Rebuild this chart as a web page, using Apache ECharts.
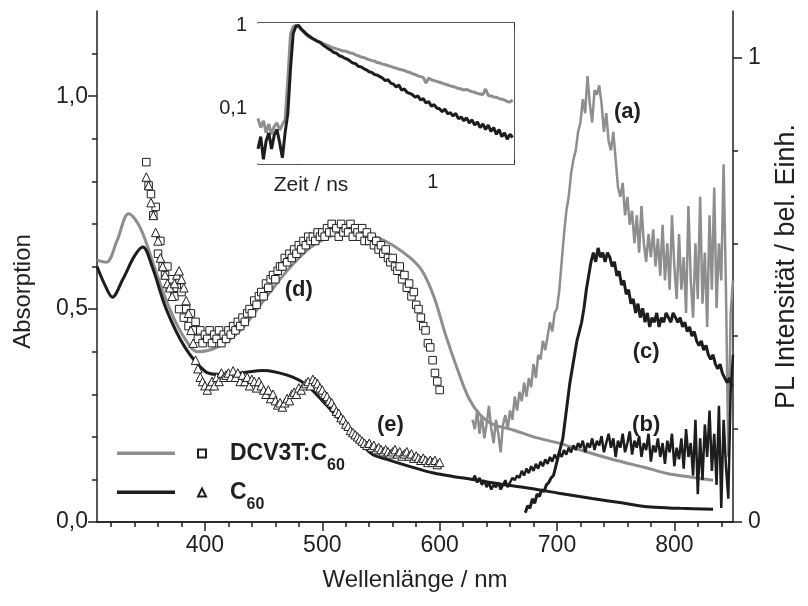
<!DOCTYPE html>
<html>
<head>
<meta charset="utf-8">
<script src="https://cdn.jsdelivr.net/npm/echarts@6/dist/echarts.min.js"></script>
<style>
  html, body { margin: 0; padding: 0; background: #ffffff; }
  #chart { width: 808px; height: 606px; }
</style>
</head>
<body>
<div id="chart"></div>
<script>
// ---------- Absorption spectra (left axis) ----------
const absWavelengthDcv = [308, 316, 325, 335, 345, 358, 370, 383, 394, 410, 430, 450, 470, 490, 510, 520, 530, 545, 560, 575, 585, 595, 605, 615, 625, 635, 645, 664, 680, 703, 725, 750, 775, 794, 815, 833];
const absDcv = [0.615, 0.61, 0.66, 0.724, 0.69, 0.59, 0.5, 0.43, 0.40, 0.41, 0.45, 0.52, 0.59, 0.645, 0.675, 0.68, 0.68, 0.67, 0.65, 0.62, 0.59, 0.53, 0.44, 0.36, 0.29, 0.25, 0.23, 0.215, 0.2, 0.184, 0.165, 0.145, 0.128, 0.114, 0.105, 0.098];

const absWavelengthC60 = [308, 315, 321, 330, 340, 347, 355, 367, 383, 400, 410, 430, 450, 470, 485, 500, 515, 530, 542, 555, 575, 595, 611, 628, 650, 675, 703, 730, 755, 780, 805, 833];
const absC60 = [0.6, 0.555, 0.528, 0.57, 0.625, 0.646, 0.6, 0.5, 0.41, 0.354, 0.347, 0.35, 0.356, 0.345, 0.325, 0.285, 0.24, 0.195, 0.16, 0.147, 0.13, 0.115, 0.107, 0.1, 0.09, 0.08, 0.067, 0.055, 0.045, 0.035, 0.032, 0.03];

// ---------- Excitation spectra, symbols (left axis), 350-600 nm every 2 nm ----------
const excStart = 350, excStep = 2;
const excDcv = [0.845, 0.79, 0.77, 0.72, 0.74, 0.63, 0.66, 0.6, 0.58, 0.6, 0.55, 0.57, 0.53, 0.55, 0.5, 0.54, 0.48, 0.5, 0.46, 0.49,
  0.45, 0.47, 0.43, 0.45, 0.42, 0.44, 0.43, 0.45, 0.42, 0.44, 0.43, 0.45, 0.42, 0.44, 0.43, 0.45, 0.44, 0.46, 0.45, 0.47,
  0.46, 0.48, 0.47, 0.49, 0.5, 0.49, 0.52, 0.51, 0.53, 0.54, 0.53, 0.56, 0.55, 0.57, 0.58, 0.57, 0.59, 0.6, 0.6, 0.62,
  0.61, 0.63, 0.62, 0.64, 0.63, 0.65, 0.64, 0.66, 0.65, 0.67, 0.66, 0.67, 0.66, 0.68, 0.67, 0.68, 0.67, 0.69, 0.68, 0.7,
  0.68, 0.69, 0.67, 0.7, 0.68, 0.69, 0.68, 0.7, 0.67, 0.69, 0.68, 0.67, 0.69, 0.66, 0.68, 0.66, 0.67, 0.65, 0.66, 0.64,
  0.65, 0.63, 0.64, 0.62, 0.61, 0.62, 0.6, 0.59, 0.6, 0.57, 0.58, 0.55, 0.56, 0.53, 0.54, 0.51, 0.5, 0.48, 0.46, 0.45,
  0.42, 0.41, 0.38, 0.35, 0.33, 0.31];
const excC60 = [0.81, 0.79, 0.75, 0.72, 0.68, 0.66, 0.62, 0.6, 0.58, 0.56, 0.55, 0.53, 0.56, 0.58, 0.59, 0.57, 0.55, 0.52, 0.49, 0.45,
  0.42, 0.38, 0.36, 0.34, 0.33, 0.32, 0.31, 0.32, 0.33, 0.32, 0.34, 0.33, 0.35, 0.34, 0.345, 0.35, 0.34, 0.355, 0.34, 0.35,
  0.33, 0.345, 0.33, 0.34, 0.32, 0.335, 0.33, 0.315, 0.33, 0.32, 0.31, 0.3, 0.31, 0.29, 0.3, 0.285, 0.275, 0.28, 0.27, 0.28,
  0.29, 0.285, 0.3, 0.305, 0.3, 0.315, 0.31, 0.32, 0.325, 0.33, 0.32, 0.335, 0.33, 0.325, 0.315, 0.31, 0.3, 0.295, 0.285, 0.28,
  0.27, 0.26, 0.255, 0.245, 0.24, 0.23, 0.225, 0.215, 0.21, 0.205, 0.2, 0.195, 0.19, 0.185, 0.18, 0.185, 0.175, 0.18, 0.17, 0.175,
  0.17, 0.165, 0.17, 0.165, 0.16, 0.165, 0.17, 0.16, 0.165, 0.155, 0.16, 0.165, 0.155, 0.16, 0.15, 0.155, 0.15, 0.145, 0.15, 0.145,
  0.14, 0.145, 0.14, 0.145, 0.135, 0.14];

// ---------- Photoluminescence spectra (right axis), every 2 nm ----------
const plStartA = 628, plStepA = 2;
const plA = [0.22, 0.2, 0.24, 0.19, 0.23, 0.18, 0.21, 0.25, 0.2, 0.17, 0.22, 0.19, 0.15, 0.21, 0.23, 0.2, 0.24, 0.22, 0.27, 0.24,
  0.28, 0.26, 0.3, 0.27, 0.31, 0.29, 0.34, 0.31, 0.36, 0.35, 0.39, 0.37, 0.4, 0.43, 0.41, 0.45, 0.46,
  0.5, 0.56, 0.62, 0.67, 0.7, 0.75, 0.78, 0.8, 0.84, 0.86, 0.91, 0.88, 0.96, 0.9, 0.86, 0.93, 0.92, 0.94, 0.9, 0.84,
  0.88, 0.82, 0.8, 0.84, 0.78, 0.72, 0.7, 0.73, 0.66, 0.7, 0.64, 0.67, 0.6, 0.66, 0.58, 0.68, 0.6, 0.56, 0.62, 0.57,
  0.63, 0.55, 0.61, 0.53, 0.64, 0.52, 0.6, 0.5, 0.66, 0.55, 0.48, 0.62, 0.5, 0.57, 0.45, 0.68, 0.52, 0.44, 0.6, 0.48,
  0.7, 0.47, 0.58, 0.42, 0.66, 0.5, 0.72, 0.46, 0.6, 0.52, 0.77, 0.5, 0.14, 0.45, 0.52];

const plStartB = 628, plStepB = 2;
const plB = [0.09, 0.1, 0.085, 0.095, 0.08, 0.09, 0.075, 0.085, 0.07, 0.08, 0.075, 0.085, 0.07, 0.08, 0.09, 0.075, 0.085, 0.095, 0.09, 0.1,
  0.095, 0.11, 0.1, 0.115, 0.105, 0.12, 0.11, 0.125, 0.115, 0.13, 0.12, 0.135, 0.125, 0.14, 0.13, 0.145, 0.135, 0.15, 0.14, 0.155,
  0.145, 0.16, 0.15, 0.165, 0.155, 0.17, 0.16, 0.175, 0.15, 0.17, 0.16, 0.18, 0.155, 0.175, 0.165, 0.185, 0.15, 0.17, 0.19, 0.16,
  0.18, 0.14, 0.175, 0.16, 0.19, 0.15, 0.17, 0.195, 0.145, 0.175, 0.16, 0.185, 0.14, 0.17, 0.155, 0.19, 0.13, 0.165, 0.15, 0.18,
  0.14, 0.17, 0.125, 0.175, 0.15, 0.19, 0.12, 0.16, 0.135, 0.18, 0.115, 0.2, 0.14, 0.17, 0.1, 0.22, 0.06, 0.18, 0.09, 0.21,
  0.14, 0.24, 0.11, 0.19, 0.08, 0.25, 0.03, 0.22, 0.12, 0.05, 0.28, 0.36];

const plStartC = 673, plStepC = 2;
const plC = [0.02, 0.035, 0.03, 0.05, 0.04, 0.06, 0.055, 0.07, 0.065, 0.08, 0.085, 0.095, 0.1, 0.12, 0.14, 0.16, 0.18, 0.22, 0.26, 0.3,
  0.33, 0.36, 0.39, 0.41, 0.43, 0.46, 0.5, 0.53, 0.56, 0.58, 0.56, 0.59, 0.57, 0.58, 0.56, 0.58, 0.57, 0.55, 0.56, 0.53,
  0.54, 0.51, 0.52, 0.49, 0.5, 0.47, 0.48, 0.45, 0.47, 0.44, 0.46, 0.43, 0.45, 0.42, 0.44, 0.43, 0.45, 0.42, 0.44, 0.43,
  0.45, 0.44, 0.43, 0.45, 0.44, 0.43, 0.44, 0.42, 0.43, 0.41, 0.42, 0.4, 0.41, 0.39, 0.38, 0.39, 0.37, 0.38, 0.36, 0.35,
  0.36, 0.34, 0.33, 0.34, 0.32, 0.31, 0.3, 0.31, 0.29];

// ---------- Time-resolved PL decay (inset), every 0.02 ns ----------
const decayStart = -0.29, decayStep = 0.02;
const decayDcv = [0.075, 0.058, 0.07, 0.05, 0.064, 0.048, 0.06, 0.066, 0.054, 0.063, 0.072, 0.22, 0.78, 0.97, 1.0, 0.96, 0.88, 0.82, 0.76, 0.72,
  0.69, 0.67, 0.645, 0.63, 0.6, 0.585, 0.57, 0.545, 0.535, 0.52, 0.51, 0.495, 0.49, 0.48, 0.465, 0.46, 0.44, 0.43, 0.415, 0.41,
  0.395, 0.385, 0.375, 0.37, 0.355, 0.35, 0.34, 0.335, 0.325, 0.32, 0.31, 0.305, 0.295, 0.29, 0.285, 0.275, 0.27, 0.26, 0.255, 0.245,
  0.24, 0.235, 0.2, 0.23, 0.22, 0.215, 0.21, 0.205, 0.2, 0.195, 0.19, 0.185, 0.182, 0.178, 0.172, 0.17, 0.165, 0.168, 0.162, 0.158,
  0.155, 0.15, 0.148, 0.145, 0.17, 0.142, 0.14, 0.136, 0.135, 0.13, 0.128, 0.125, 0.12, 0.118, 0.125];
const decayC60 = [0.032, 0.045, 0.024, 0.04, 0.05, 0.032, 0.047, 0.055, 0.038, 0.025, 0.05, 0.085, 0.3, 0.8, 0.98, 1.0, 0.9, 0.84, 0.78, 0.74,
  0.7, 0.67, 0.64, 0.62, 0.58, 0.55, 0.52, 0.5, 0.47, 0.46, 0.43, 0.42, 0.4, 0.39, 0.37, 0.35, 0.345, 0.32, 0.315, 0.3,
  0.29, 0.275, 0.27, 0.255, 0.25, 0.24, 0.23, 0.215, 0.22, 0.2, 0.195, 0.18, 0.19, 0.165, 0.17, 0.155, 0.15, 0.145, 0.135, 0.14,
  0.125, 0.13, 0.115, 0.12, 0.105, 0.11, 0.1, 0.098, 0.09, 0.097, 0.085, 0.088, 0.08, 0.086, 0.074, 0.078, 0.07, 0.076, 0.066, 0.072,
  0.062, 0.068, 0.058, 0.064, 0.055, 0.062, 0.052, 0.058, 0.048, 0.055, 0.045, 0.05, 0.042, 0.048, 0.044];

// ---------- Axis ticks ----------
const wlMajor = [400, 500, 600, 700, 800];
const wlMinor = [320, 340, 360, 380, 420, 440, 460, 480, 520, 540, 560, 580, 620, 640, 660, 680, 720, 740, 760, 780, 820, 840];
const absMajor = [0, 0.5, 1.0];
const absMinor = [0.1, 0.2, 0.3, 0.4, 0.6, 0.7, 0.8, 0.9, 1.1];
const plMajor = [0, 1];
const plMinor = [0.2, 0.4, 0.6, 0.8];
const timeTicks = [-0.2, 0, 0.2, 0.4, 0.6, 0.8, 1.0, 1.2, 1.4, 1.6];
const timeLabels = [1];
const decayMajor = [0.1, 1];
const decayMinor = [0.03, 0.04, 0.05, 0.06, 0.07, 0.08, 0.09, 0.2, 0.3, 0.4, 0.5, 0.6, 0.7, 0.8, 0.9];

// ---------- Curve labels ----------
const curveLabels = [
  { name: '(a)', value: [760, 0.963] },
  { name: '(b)', value: [776, 0.227] },
  { name: '(c)', value: [776, 0.40] },
  { name: '(d)', value: [480, 0.545] },
  { name: '(e)', value: [558, 0.227] }
];

const zip = (xs, ys) => ys.map((y, i) => [xs[i], y]);
const even = (start, step, ys) => ys.map((y, i) => [+(start + i * step).toFixed(3), y]);

const FONT = 'Liberation Sans, Arial, Helvetica, sans-serif';
const INK = '#231f20';
const GREY = '#8e8e8e';
const BLACK = '#1d1d1d';

const axisLine = { show: true, lineStyle: { color: INK, width: 1.5 } };
const noAxisLine = { show: false };
const fmtComma = v => (Math.round(v * 10) / 10).toFixed(1).replace('.', ',');
const legendRich = {
  b: { fontFamily: FONT, fontSize: 23, fontWeight: 'bold', color: INK, lineHeight: 24, padding: [9, 0, 9, 19] },
  s: { fontFamily: FONT, fontSize: 16, fontWeight: 'bold', color: INK, lineHeight: 18, padding: [24, 0, 0, 0] }
};

const chart = echarts.init(document.getElementById('chart'), null, { renderer: 'canvas' });

const option = {
  backgroundColor: '#ffffff',
  animation: false,
  textStyle: { fontFamily: FONT, color: INK },
  grid: [
    { left: 97, top: 11, right: 58, bottom: 84, show: false },
    { left: 258, top: 23, width: 256, height: 141, show: true, backgroundColor: '#ffffff', borderWidth: 0, z: 5 }
  ],
  legend: [
    {
      data: ['DCV3T:C60 Absorption'], left: 112, top: 446.5, orient: 'vertical',
      icon: 'rect', itemWidth: 58, itemHeight: 3.5, selectedMode: false,
      formatter: () => '', textStyle: { fontSize: 1 }
    },
    {
      data: ['C60 Absorption'], left: 112, top: 485.5, orient: 'vertical',
      icon: 'rect', itemWidth: 58, itemHeight: 3.5, selectedMode: false,
      formatter: () => '', textStyle: { fontSize: 1 }
    },
    {
      data: ['DCV3T:C60'], left: 192, top: 428, orient: 'vertical',
      itemWidth: 8, itemHeight: 8, selectedMode: false,
      formatter: () => '{b|DCV3T:C}{s|60}',
      textStyle: { rich: legendRich }
    },
    {
      data: ['C60'], left: 192, top: 467, orient: 'vertical',
      itemWidth: 8, itemHeight: 8, selectedMode: false,
      formatter: () => '{b|C}{s|60}',
      textStyle: { rich: legendRich }
    }
  ],
  xAxis: [
    { // wavelength, major ticks + labels
      type: 'value', gridIndex: 0, min: 308, max: 850, position: 'bottom',
      axisLine: axisLine,
      axisTick: { show: true, inside: false, length: 9, customValues: wlMajor, lineStyle: { color: INK, width: 1.5 } },
      axisLabel: { show: true, customValues: wlMajor, fontSize: 23, color: INK, fontFamily: FONT, margin: 12 },
      splitLine: { show: false },
      name: 'Wellenlänge / nm', nameLocation: 'middle', nameGap: 46,
      nameTextStyle: { fontSize: 24, color: INK, fontFamily: FONT }
    },
    { // wavelength, minor ticks
      type: 'value', gridIndex: 0, min: 308, max: 850, position: 'bottom',
      axisLine: noAxisLine,
      axisTick: { show: true, inside: false, length: 5, customValues: wlMinor, lineStyle: { color: INK, width: 1.5 } },
      axisLabel: { show: false }, splitLine: { show: false }
    },
    { // frame top
      type: 'value', gridIndex: 0, min: 308, max: 850, position: 'top',
      axisLine: axisLine, axisTick: { show: false }, axisLabel: { show: false }, splitLine: { show: false }
    },
    { // inset time axis
      type: 'value', gridIndex: 1, min: -0.29, max: 1.6, position: 'bottom',
      axisLine: axisLine,
      axisTick: { show: true, inside: true, length: 5, customValues: timeTicks, lineStyle: { color: INK, width: 1.5 } },
      axisLabel: { show: true, customValues: timeLabels, fontSize: 20, color: INK, fontFamily: FONT, margin: 8, formatter: v => String(Math.round(v)) },
      splitLine: { show: false },
      name: 'Zeit / ns', nameLocation: 'middle', nameGap: 11, nameMoveOverlap: false,
      nameTextStyle: { fontSize: 21, color: INK, fontFamily: FONT, padding: [0, 150, 0, 0] }
    },
    { // inset top frame
      type: 'value', gridIndex: 1, min: -0.29, max: 1.6, position: 'top',
      axisLine: axisLine,
      axisTick: { show: true, inside: true, length: 5, customValues: timeTicks, lineStyle: { color: INK, width: 1.5 } },
      axisLabel: { show: false }, splitLine: { show: false }
    }
  ],
  yAxis: [
    { // absorption, major
      type: 'value', gridIndex: 0, min: 0, max: 1.2, position: 'left',
      axisLine: axisLine,
      axisTick: { show: true, inside: false, length: 9, customValues: absMajor, lineStyle: { color: INK, width: 1.5 } },
      axisLabel: { show: true, customValues: absMajor, fontSize: 23, color: INK, fontFamily: FONT, margin: 9, formatter: fmtComma },
      splitLine: { show: false },
      name: 'Absorption', nameLocation: 'middle', nameGap: 62, nameRotate: 90,
      nameTextStyle: { fontSize: 24, color: INK, fontFamily: FONT, padding: [0, 50, 0, 0] }
    },
    { // absorption, minor
      type: 'value', gridIndex: 0, min: 0, max: 1.2, position: 'left',
      axisLine: noAxisLine,
      axisTick: { show: true, inside: false, length: 5, customValues: absMinor, lineStyle: { color: INK, width: 1.5 } },
      axisLabel: { show: false }, splitLine: { show: false }
    },
    { // PL intensity, major
      type: 'value', gridIndex: 0, min: 0, max: 1.1, position: 'right',
      axisLine: axisLine,
      axisTick: { show: true, inside: false, length: 9, customValues: plMajor, lineStyle: { color: INK, width: 1.5 } },
      axisLabel: { show: true, customValues: plMajor, fontSize: 23, color: INK, fontFamily: FONT, margin: 15, formatter: v => String(Math.round(v)) },
      splitLine: { show: false },
      name: 'PL Intensität / bel. Einh.', nameLocation: 'middle', nameGap: 40, nameRotate: 90,
      nameTextStyle: { fontSize: 27, color: INK, fontFamily: FONT }
    },
    { // PL intensity, minor
      type: 'value', gridIndex: 0, min: 0, max: 1.1, position: 'right',
      axisLine: noAxisLine,
      axisTick: { show: true, inside: false, length: 5, customValues: plMinor, lineStyle: { color: INK, width: 1.5 } },
      axisLabel: { show: false }, splitLine: { show: false }
    },
    { // inset log axis, major
      type: 'log', logBase: 10, gridIndex: 1, min: 0.021, max: 1.07, position: 'left',
      axisLine: axisLine,
      axisTick: { show: true, inside: false, length: 9, customValues: decayMajor, lineStyle: { color: INK, width: 1.5 } },
      axisLabel: { show: true, customValues: decayMajor, fontSize: 20, color: INK, fontFamily: FONT, margin: 11, formatter: v => (v < 0.5 ? '0,1' : '1') },
      splitLine: { show: false }
    },
    { // inset log axis, minor
      type: 'log', logBase: 10, gridIndex: 1, min: 0.021, max: 1.07, position: 'left',
      axisLine: noAxisLine,
      axisTick: { show: true, inside: false, length: 5, customValues: decayMinor, lineStyle: { color: INK, width: 1.5 } },
      axisLabel: { show: false }, splitLine: { show: false }
    },
    { // inset right frame
      type: 'log', logBase: 10, gridIndex: 1, min: 0.021, max: 1.07, position: 'right',
      axisLine: axisLine,
      axisTick: { show: true, inside: true, length: 5, customValues: decayMajor.concat(decayMinor), lineStyle: { color: INK, width: 1.5 } },
      axisLabel: { show: false }, splitLine: { show: false }
    }
  ],
  series: [
    {
      name: 'DCV3T:C60 Absorption', type: 'line', xAxisIndex: 0, yAxisIndex: 0,
      data: zip(absWavelengthDcv, absDcv), smooth: 0.35, showSymbol: false, symbol: 'none',
      lineStyle: { color: GREY, width: 3 }, itemStyle: { color: GREY }, z: 2
    },
    {
      name: 'C60 Absorption', type: 'line', xAxisIndex: 0, yAxisIndex: 0,
      data: zip(absWavelengthC60, absC60), smooth: 0.35, showSymbol: false, symbol: 'none',
      lineStyle: { color: BLACK, width: 3 }, itemStyle: { color: BLACK }, z: 3
    },
    {
      name: 'PL DCV3T:C60 (a)', type: 'line', xAxisIndex: 0, yAxisIndex: 2,
      data: even(plStartA, plStepA, plA), showSymbol: false, symbol: 'none',
      lineStyle: { color: GREY, width: 2.5 }, itemStyle: { color: GREY }, z: 2
    },
    {
      name: 'PL (b)', type: 'line', xAxisIndex: 0, yAxisIndex: 2,
      data: even(plStartB, plStepB, plB), showSymbol: false, symbol: 'none',
      lineStyle: { color: BLACK, width: 2.5 }, itemStyle: { color: BLACK }, z: 3
    },
    {
      name: 'PL (c)', type: 'line', xAxisIndex: 0, yAxisIndex: 2,
      data: even(plStartC, plStepC, plC), showSymbol: false, symbol: 'none',
      lineStyle: { color: BLACK, width: 3 }, itemStyle: { color: BLACK }, z: 3
    },
    {
      name: 'DCV3T:C60', type: 'scatter', xAxisIndex: 0, yAxisIndex: 0,
      data: even(excStart, excStep, excDcv), symbol: 'rect', symbolSize: 7.5,
      itemStyle: { color: '#ffffff', borderColor: INK, borderWidth: 1, opacity: 1 }, z: 4
    },
    {
      name: 'C60', type: 'scatter', xAxisIndex: 0, yAxisIndex: 0,
      data: even(excStart, excStep, excC60), symbol: 'triangle', symbolSize: 8.5,
      itemStyle: { color: '#ffffff', borderColor: INK, borderWidth: 1, opacity: 1 }, z: 4
    },
    {
      name: 'Kurven', type: 'scatter', xAxisIndex: 0, yAxisIndex: 0,
      data: curveLabels, symbolSize: 0, silent: true, z: 6,
      itemStyle: { opacity: 1, color: INK },
      label: {
        show: true, position: 'inside', formatter: p => p.name, opacity: 1,
        fontFamily: FONT, fontSize: 22, fontWeight: 'bold', color: INK
      }
    },
    {
      name: 'Abklingkurve DCV3T:C60', type: 'line', xAxisIndex: 3, yAxisIndex: 4,
      data: even(decayStart, decayStep, decayDcv), showSymbol: false, symbol: 'none',
      lineStyle: { color: GREY, width: 3 }, z: 7
    },
    {
      name: 'Abklingkurve C60', type: 'line', xAxisIndex: 3, yAxisIndex: 4,
      data: even(decayStart, decayStep, decayC60), showSymbol: false, symbol: 'none',
      lineStyle: { color: BLACK, width: 3 }, z: 8
    }
  ]
};

chart.setOption(option);
</script>
</body>
</html>
